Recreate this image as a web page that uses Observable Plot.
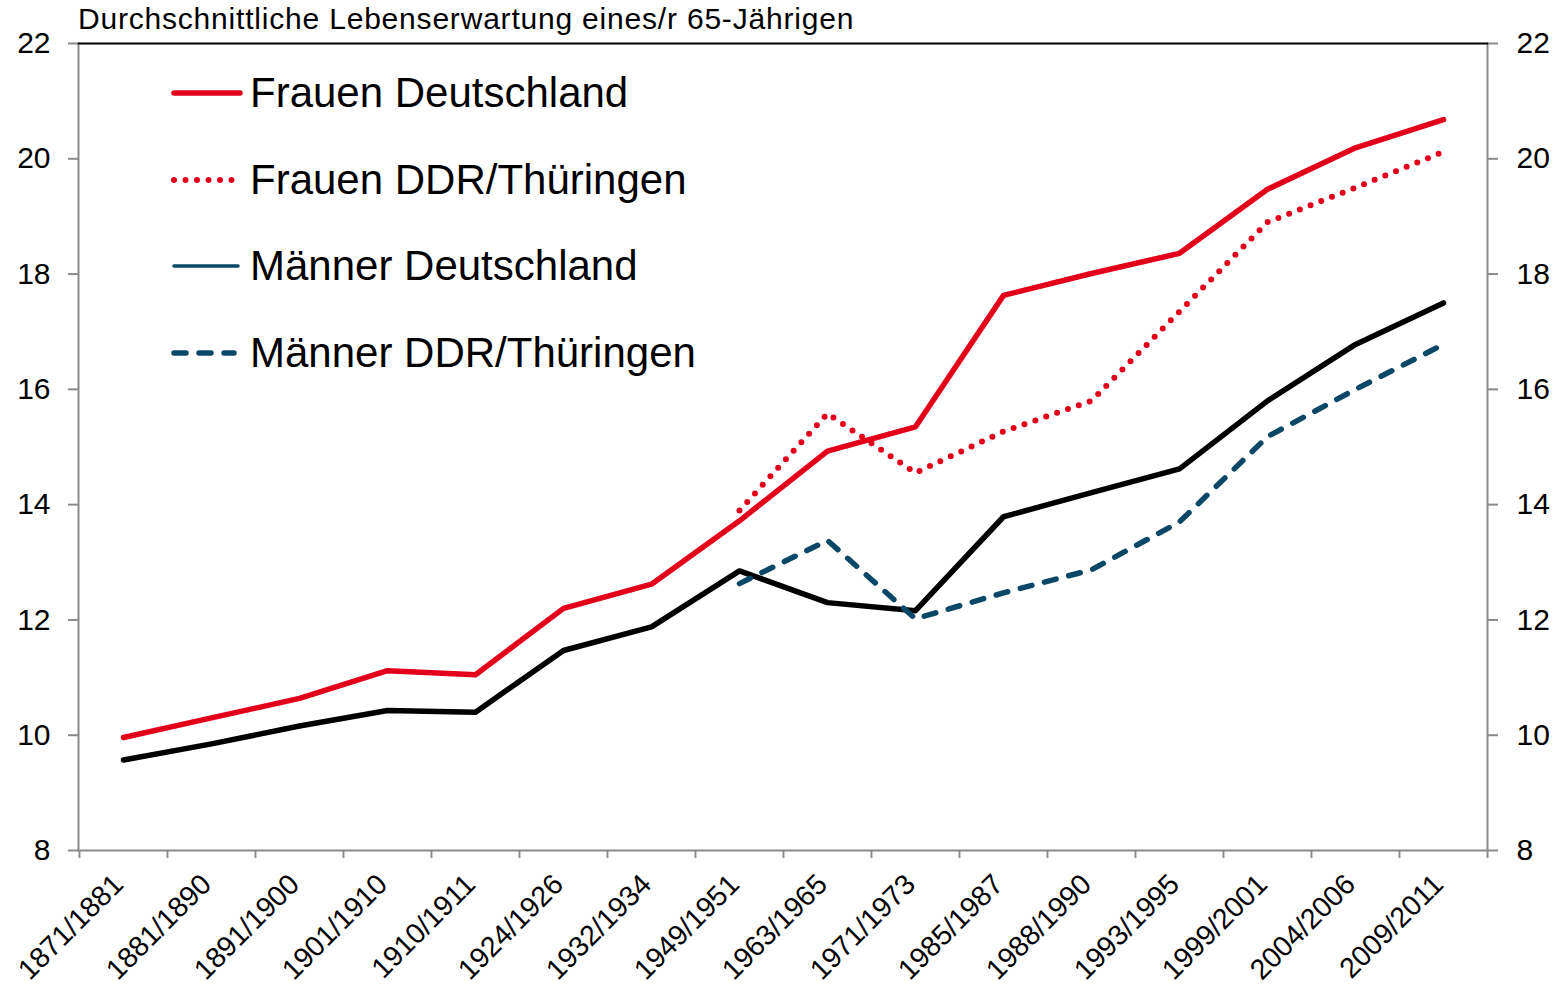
<!DOCTYPE html>
<html>
<head>
<meta charset="utf-8">
<script src="https://cdn.jsdelivr.net/npm/d3@7"></script>
<script src="https://cdn.jsdelivr.net/npm/@observablehq/plot@0.6"></script>
<style>
  html, body { margin: 0; padding: 0; background: #fff; }
  #wrap { position: relative; width: 1564px; height: 995px; font-family: "Liberation Sans", Arial, sans-serif; }
  #title { position: absolute; left: 78px; top: 2px; font-size: 30px; letter-spacing: 0.8px; color: #000; white-space: nowrap; line-height: 34px; }
  #legend { position: absolute; left: 0; top: 0; }
  .lg { position: absolute; left: 168px; height: 50px; display: flex; align-items: center; white-space: nowrap; font-size: 42px; color: #000; }
  .lg svg { width: 80px; height: 20px; margin-right: 2px; }
</style>
</head>
<body>
<div id="wrap">
  <div id="chart"></div>
  <div id="title">Durchschnittliche Lebenserwartung eines/r 65-Jährigen</div>
  <div id="legend"></div>
</div>
<script>
const categories = ["1871/1881","1881/1890","1891/1900","1901/1910","1910/1911","1924/1926","1932/1934","1949/1951","1963/1965","1971/1973","1985/1987","1988/1990","1993/1995","1999/2001","2004/2006","2009/2011"];
const frauenDeutschland = [9.96, 10.30, 10.64, 11.12, 11.05, 12.20, 12.62, 13.72, 14.93, 15.35, 17.63, 18.01, 18.36, 19.47, 20.19, 20.68];
const frauenDDR = [null, null, null, null, null, null, null, 13.90, 15.58, 14.55, 15.27, 15.80, 17.35, 18.90, 19.50, 20.12];
const maennerDeutschland = [9.57, 9.85, 10.16, 10.43, 10.40, 11.47, 11.88, 12.85, 12.30, 12.16, 13.79, 14.21, 14.62, 15.80, 16.78, 17.50];
const maennerDDR = [null, null, null, null, null, null, null, 12.63, 13.38, 12.02, 12.47, 12.87, 13.70, 15.18, 16.00, 16.78];
const yTicks = [8, 10, 12, 14, 16, 18, 20, 22];
const seriesNames = ["Frauen Deutschland", "Frauen DDR/Thüringen", "Männer Deutschland", "Männer DDR/Thüringen"];

const RED = "#e2001a", BLUE = "#0b4868", GREY = "#8a8a8a";
const W = 1564, H = 995, mL = 78, mR = 77, mT = 43, mB = 145;
const step = (W - mL - mR) / categories.length;

function rows(values) {
  return categories.map((c, i) => ({cat: c, v: values[i]})).filter(d => d.v != null);
}

const chart = Plot.plot({
  width: W, height: H,
  marginLeft: mL, marginRight: mR, marginTop: mT, marginBottom: mB,
  style: {fontFamily: "'Liberation Sans', Arial, sans-serif", background: "white", color: "black"},
  x: {type: "point", domain: categories, padding: 0.5},
  y: {domain: [8, 22]},
  marks: [
    Plot.frame({anchor: "left", stroke: GREY, strokeWidth: 2}),
    Plot.frame({anchor: "right", stroke: GREY, strokeWidth: 2}),
    Plot.frame({anchor: "bottom", stroke: GREY, strokeWidth: 2}),
    Plot.frame({anchor: "top", stroke: "black", strokeWidth: 2}),
    Plot.axisY(yTicks, {anchor: "left", label: null, tickFormat: "d", tickSize: 10, tickPadding: 18, fontSize: 30, stroke: GREY, strokeWidth: 2, fill: "black"}),
    Plot.axisY(yTicks, {anchor: "right", label: null, tickFormat: "d", tickSize: 10, tickPadding: 19, fontSize: 30, stroke: GREY, strokeWidth: 2, fill: "black"}),
    Plot.axisX(categories, {label: null, tickSize: 8, tickFormat: () => "", dx: -step / 2, stroke: GREY, strokeWidth: 2}),
    Plot.axisX([categories[categories.length - 1]], {label: null, tickSize: 8, tickFormat: () => "", dx: step / 2, stroke: GREY, strokeWidth: 2}),
    Plot.axisX(categories, {label: null, tickSize: 0, tickRotate: -45, tickPadding: 29, dx: -5, fontSize: 28.5, fill: "black"}),
    Plot.line(rows(frauenDeutschland), {x: "cat", y: "v", stroke: RED, strokeWidth: 5.5, strokeLinejoin: "round"}),
    Plot.line(rows(frauenDDR), {x: "cat", y: "v", stroke: RED, strokeWidth: 6, strokeDasharray: "0 11.5", strokeLinecap: "round"}),
    Plot.line(rows(maennerDeutschland), {x: "cat", y: "v", stroke: "black", strokeWidth: 5.5, strokeLinejoin: "round"}),
    Plot.line(rows(maennerDDR), {x: "cat", y: "v", stroke: BLUE, strokeWidth: 5.5, strokeDasharray: "12 13", strokeLinecap: "round"})
  ]
});
document.getElementById("chart").appendChild(chart);

// legend (as drawn in the original, inside the plot area)
const legendStyles = [
  {stroke: RED, w: 5.5, dash: null, x2: 72},
  {stroke: RED, w: 6, dash: "0 11.5", x2: 66},
  {stroke: BLUE, w: 3.5, dash: null, x2: 70},
  {stroke: BLUE, w: 5.5, dash: "12 13", x2: 66}
];
const legendCenters = [93, 180, 266, 353];
const lg = document.getElementById("legend");
seriesNames.forEach((name, i) => {
  const s = legendStyles[i];
  const div = document.createElement("div");
  div.className = "lg";
  div.style.top = (legendCenters[i] - 25) + "px";
  div.innerHTML = `<svg viewBox="0 0 80 20"><line x1="6" y1="10" x2="${s.x2}" y2="10" stroke="${s.stroke}" stroke-width="${s.w}" stroke-linecap="round" ${s.dash ? `stroke-dasharray="${s.dash}"` : ""}/></svg><span>${name}</span>`;
  lg.appendChild(div);
});
</script>
</body>
</html>
